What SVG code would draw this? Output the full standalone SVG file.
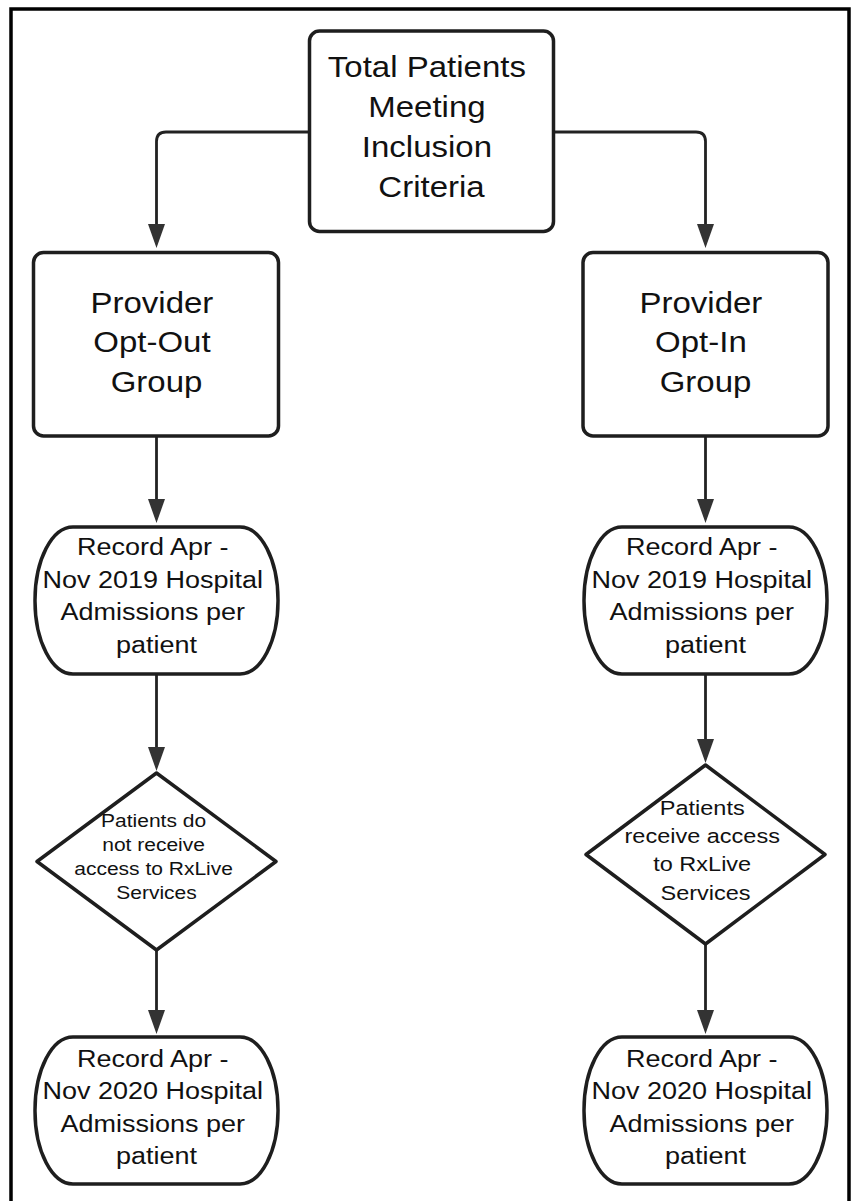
<svg xmlns="http://www.w3.org/2000/svg" width="852" height="1201" viewBox="0 0 852 1201">
  <defs>
    <marker id="arrow" markerUnits="userSpaceOnUse" markerWidth="24" markerHeight="17" refX="12" refY="8.5" orient="auto">
      <path d="M0,0 L24,8.5 L0,17 Z" fill="#333"/>
    </marker>
    <style>
      .node { fill: #fff; stroke: #1e1e1e; stroke-width: 3.5; stroke-linejoin: round; }
      .conn { fill: none; stroke: #222; stroke-width: 2.8; marker-end: url(#arrow); }
      .lbl { font-family: "Liberation Sans", Arial, sans-serif; fill: #111; text-anchor: middle; }
      .big { font-size: 33px; }
      .mid { font-size: 27px; }
      .sm { font-size: 21px; }
      .sm2 { font-size: 23.5px; }
    </style>
  </defs>
  <rect x="0" y="0" width="852" height="1201" fill="#fff"/>
  <path d="M11,1201 V9 H849 V1201" fill="none" stroke="#000" stroke-width="3.5"/>

  <g id="connectors">
    <path class="conn" d="M309,132 H166 Q156.5,132 156.5,141.5 V236"/>
    <path class="conn" d="M554,132 H696 Q705.5,132 705.5,141.5 V236"/>
    <path class="conn" d="M156.5,436 V511"/>
    <path class="conn" d="M705.5,436 V511"/>
    <path class="conn" d="M156.5,674 V759"/>
    <path class="conn" d="M705.5,674 V751"/>
    <path class="conn" d="M156.5,950 V1022"/>
    <path class="conn" d="M705.5,944 V1022"/>
  </g>

  <g id="total">
    <rect class="node" x="309.5" y="31" width="244" height="200.5" rx="10"/>
    <text class="lbl big" transform="scale(1,0.88)">
      <tspan x="431.5" y="87.5">Total Patients</tspan>
      <tspan x="431.5" y="132.95">Meeting</tspan>
      <tspan x="431.5" y="178.41">Inclusion</tspan>
      <tspan x="431.5" y="223.86">Criteria</tspan>
    </text>
  </g>

  <g id="opt-out">
    <rect class="node" x="33.5" y="252.5" width="245" height="183.5" rx="10"/>
    <text class="lbl big" transform="scale(1,0.88)">
      <tspan x="156.5" y="355.68">Provider</tspan>
      <tspan x="156.5" y="400">Opt-Out</tspan>
      <tspan x="156.5" y="445.45">Group</tspan>
    </text>
  </g>

  <g id="opt-in">
    <rect class="node" x="583" y="252.5" width="245" height="183.5" rx="10"/>
    <text class="lbl big" transform="scale(1,0.88)">
      <tspan x="705.5" y="355.68">Provider</tspan>
      <tspan x="705.5" y="400">Opt-In</tspan>
      <tspan x="705.5" y="445.45">Group</tspan>
    </text>
  </g>

  <g id="record-2019-out">
    <rect class="node" x="35" y="527" width="243" height="147" rx="38" ry="73"/>
    <text class="lbl mid" transform="scale(1,0.88)">
      <tspan x="156.5" y="631.25">Record Apr -</tspan>
      <tspan x="156.5" y="668.18">Nov 2019 Hospital</tspan>
      <tspan x="156.5" y="705.11">Admissions per</tspan>
      <tspan x="156.5" y="742.05">patient</tspan>
    </text>
  </g>

  <g id="record-2019-in">
    <rect class="node" x="584" y="527" width="243" height="147" rx="38" ry="73"/>
    <text class="lbl mid" transform="scale(1,0.88)">
      <tspan x="705.5" y="631.25">Record Apr -</tspan>
      <tspan x="705.5" y="668.18">Nov 2019 Hospital</tspan>
      <tspan x="705.5" y="705.11">Admissions per</tspan>
      <tspan x="705.5" y="742.05">patient</tspan>
    </text>
  </g>

  <g id="no-access">
    <path class="node" d="M156.5,773 L276,861.5 L156.5,950 L37,861.5 Z"/>
    <text class="lbl sm" transform="scale(1,0.88)">
      <tspan x="156.5" y="939.77">Patients do</tspan>
      <tspan x="156.5" y="967.05">not receive</tspan>
      <tspan x="156.5" y="994.32">access to RxLive</tspan>
      <tspan x="156.5" y="1021.59">Services</tspan>
    </text>
  </g>

  <g id="access">
    <path class="node" d="M705.5,765 L825,854.5 L705.5,944 L586,854.5 Z"/>
    <text class="lbl sm2" transform="scale(1,0.88)">
      <tspan x="705.5" y="926.14">Patients</tspan>
      <tspan x="705.5" y="957.95">receive access</tspan>
      <tspan x="705.5" y="990.34">to RxLive</tspan>
      <tspan x="705.5" y="1022.73">Services</tspan>
    </text>
  </g>

  <g id="record-2020-out">
    <rect class="node" x="35" y="1037" width="243" height="147" rx="38" ry="73"/>
    <text class="lbl mid" transform="scale(1,0.88)">
      <tspan x="156.5" y="1212.5">Record Apr -</tspan>
      <tspan x="156.5" y="1249.43">Nov 2020 Hospital</tspan>
      <tspan x="156.5" y="1286.36">Admissions per</tspan>
      <tspan x="156.5" y="1323.3">patient</tspan>
    </text>
  </g>

  <g id="record-2020-in">
    <rect class="node" x="584" y="1037" width="243" height="147" rx="38" ry="73"/>
    <text class="lbl mid" transform="scale(1,0.88)">
      <tspan x="705.5" y="1212.5">Record Apr -</tspan>
      <tspan x="705.5" y="1249.43">Nov 2020 Hospital</tspan>
      <tspan x="705.5" y="1286.36">Admissions per</tspan>
      <tspan x="705.5" y="1323.3">patient</tspan>
    </text>
  </g>
</svg>
